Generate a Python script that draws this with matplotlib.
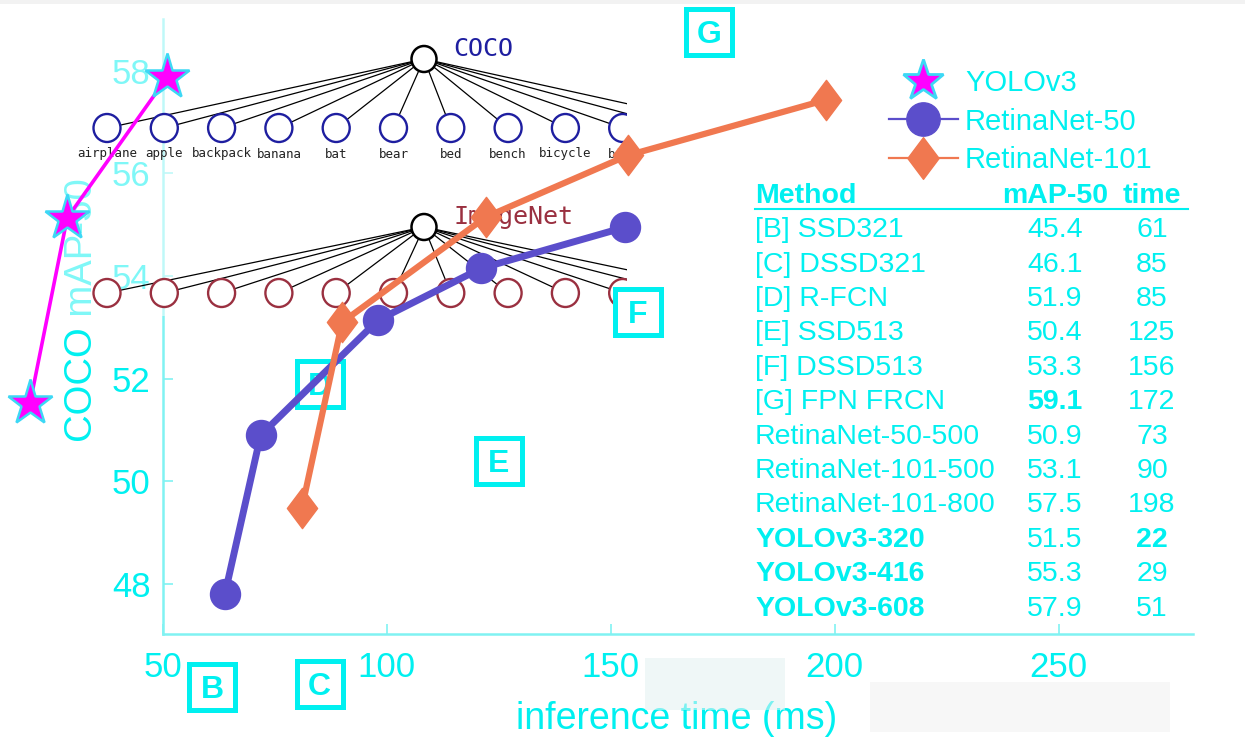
import matplotlib
matplotlib.use('Agg')
import matplotlib.pyplot as plt
from matplotlib.lines import Line2D
from matplotlib.patches import Rectangle, Ellipse
from matplotlib.path import Path
from matplotlib.transforms import offset_copy

plt.rcParams['font.family'] = ['Liberation Sans', 'DejaVu Sans']

W, H = 1245, 739

# ---------------- data ----------------
yolo_time = [20.3, 28.6, 50.9]
yolo_map = [51.52, 55.13, 57.87]
r50_time = [63.8, 71.8, 98.0, 121.0, 153.1]
r50_map = [47.8, 50.9, 53.14, 54.15, 54.95]
r101_time = [81.0, 90.0, 122.1, 153.8, 198.0]
r101_map = [49.48, 53.10, 55.15, 56.35, 57.43]

box_letters = ['B', 'C', 'D', 'E', 'F', 'G']
box_time = [61, 85, 85, 125, 156, 172]
box_map = [46.0, 46.05, 51.9, 50.4, 53.3, 58.75]

series_labels = ['YOLOv3', 'RetinaNet-50', 'RetinaNet-101']

table_header = ['Method', 'mAP-50', 'time']
table_methods = ['[B] SSD321', '[C] DSSD321', '[D] R-FCN', '[E] SSD513',
                 '[F] DSSD513', '[G] FPN FRCN', 'RetinaNet-50-500',
                 'RetinaNet-101-500', 'RetinaNet-101-800', 'YOLOv3-320',
                 'YOLOv3-416', 'YOLOv3-608']
table_map = ['45.4', '46.1', '51.9', '50.4', '53.3', '59.1', '50.9', '53.1',
             '57.5', '51.5', '55.3', '57.9']
table_time = ['61', '85', '85', '125', '156', '172', '73', '90', '198', '22',
              '29', '51']
method_bold = [False] * 9 + [True] * 3
map_bold = [False] * 5 + [True] + [False] * 6
time_bold = [False] * 9 + [True] + [False] * 2

xticks = [50, 100, 150, 200, 250]
yticks = [48, 50, 52, 54, 56, 58]
xlim = (50, 280)
ylim = (47.03, 59)

coco_children = ['airplane', 'apple', 'backpack', 'banana', 'bat', 'bear',
                 'bed', 'bench', 'bicycle', 'bird', 'boat', 'book']
n_imagenet_children = 12

# ---------------- styles ----------------
CYAN = '#00F0F0'
SPINE = '#80F2F2'
MAGENTA = '#FF00FF'
STAR_EDGE = '#3CD8F5'
PURPLE = '#5B4ECB'
ORANGE = '#F07850'
NAVY = '#1E1EA0'
DARKRED = '#9A3040'

def fx(px):
    return px / W

def fy(py):
    return 1 - py / H

fig = plt.figure(figsize=(W / 100, H / 100), dpi=100)
fig.patch.set_facecolor('white')

rect = [fx(163), fy(634), (1193 - 163) / W, (634 - 19.3) / H]

# main axes: spines, ticks
ax = fig.add_axes(rect, zorder=1)
ax.set_facecolor('none')
ax.set_xlim(*xlim)
ax.set_ylim(*ylim)
for s in ['top', 'right']:
    ax.spines[s].set_visible(False)
for s in ['left', 'bottom']:
    ax.spines[s].set_color(SPINE)
    ax.spines[s].set_linewidth(1.8)
ax.set_xticks(xticks)
ax.set_yticks(yticks)
ax.tick_params(direction='in', length=7, width=1.2, color=SPINE,
               labelcolor=CYAN, labelsize=25)
ax.tick_params(axis='x', pad=12)
ax.tick_params(axis='y', pad=9)

# axis titles
fig.text(fx(82), fy(310), 'COCO mAP-50', rotation=90, ha='center', va='center',
         fontsize=27.5, color=CYAN, zorder=0.5)
fig.text(fx(677), fy(719), 'inference time (ms)', ha='center', va='center',
         fontsize=27, color=CYAN, zorder=0.5)

# tree overlay (semi-transparent white panel)
tax = fig.add_axes([0, fy(316), 627 / W, 316 / H], zorder=2)
tax.set_xlim(0, 627)
tax.set_ylim(316, 0)
tax.patch.set_facecolor('white')
tax.patch.set_alpha(0.5)
tax.set_xticks([])
tax.set_yticks([])
for s in tax.spines.values():
    s.set_visible(False)

root_x = 424
coco_root_y, coco_child_y, coco_label_y = 59, 128, 154
img_root_y, img_child_y = 227, 293
child_x0, child_dx = 107, 57.3

for i, lab in enumerate(coco_children):
    cx = child_x0 + i * child_dx
    tax.plot([root_x, cx], [coco_root_y, coco_child_y], color='black', lw=0.9, zorder=1)
    tax.add_patch(Ellipse((cx, coco_child_y), 27, 28, fc='white', ec=NAVY, lw=1.7, zorder=2))
    tax.text(cx, coco_label_y, lab, ha='center', va='center', fontsize=9,
             family='DejaVu Sans Mono', color='#222222', zorder=3, clip_on=True)
for i in range(n_imagenet_children):
    cx = child_x0 + i * child_dx
    tax.plot([root_x, cx], [img_root_y, img_child_y], color='black', lw=0.9, zorder=1)
    tax.add_patch(Ellipse((cx, img_child_y), 27, 28, fc='white', ec=DARKRED, lw=1.7, zorder=2))
for ry in [coco_root_y, img_root_y]:
    tax.add_patch(Ellipse((root_x, ry), 25, 26, fc='white', ec='black', lw=1.8, zorder=4))
tax.text(453, 49, 'COCO', ha='left', va='center', fontsize=18,
         family='DejaVu Sans Mono', color=NAVY, zorder=4)
tax.text(453, 217, 'ImageNet', ha='left', va='center', fontsize=18,
         family='DejaVu Sans Mono', color=DARKRED, zorder=4)

# data axes
dax = fig.add_axes(rect, zorder=3)
dax.set_facecolor('none')
dax.set_xlim(*xlim)
dax.set_ylim(*ylim)
dax.axis('off')

# letter boxes
dax.plot(box_time, box_map, ls='none', marker='s', ms=33, mfc='white', mec=CYAN,
         mew=3.6, clip_on=False, zorder=1)
letter_tr = offset_copy(dax.transData, fig=fig, y=-8.0, units='points')
for l, t, m in zip(box_letters, box_time, box_map):
    dax.text(t, m, l, ha='center', va='baseline', fontsize=23, fontweight='bold',
             color=CYAN, transform=letter_tr, clip_on=False, zorder=1.1)

diamond = Path([(0, 1), (0.75, 0), (0, -1), (-0.75, 0), (0, 1)],
               [Path.MOVETO, Path.LINETO, Path.LINETO, Path.LINETO, Path.CLOSEPOLY])

dax.plot(yolo_time, yolo_map, color=MAGENTA, lw=2.6, clip_on=False, zorder=3)
dax.plot(yolo_time, yolo_map, ls='none', marker='*', ms=34, mfc=MAGENTA,
         mec=STAR_EDGE, mew=1.8, clip_on=False, zorder=5)
dax.plot(r50_time, r50_map, color=PURPLE, lw=5, marker='o', ms=21.6, mfc=PURPLE,
         mec=PURPLE, clip_on=False, zorder=4)
dax.plot(r101_time, r101_map, color=ORANGE, lw=4.5, marker=diamond, ms=29,
         mfc=ORANGE, mec=ORANGE, clip_on=False, zorder=4)

handles = [
    Line2D([], [], ls='none', marker='*', ms=31, mfc=MAGENTA, mec=STAR_EDGE, mew=2),
    Line2D([], [], color=PURPLE, lw=1.6, marker='o', ms=24, mfc=PURPLE, mec=PURPLE),
    Line2D([], [], color=ORANGE, lw=1.6, marker=diamond, ms=30, mfc=ORANGE, mec=ORANGE),
]
dax.legend(handles, series_labels, loc='upper left',
           bbox_to_anchor=(fx(889), fy(69)), bbox_transform=fig.transFigure,
           frameon=False, fontsize=21, handlelength=2.35, handletextpad=0.25,
           labelspacing=0.36, borderpad=0, borderaxespad=0, labelcolor=CYAN)

# table
col_method_x, col_map_x, col_time_x = 755, 1055, 1152
header_y = 193
row_y0, row_dy = 227, 34.4
tfs = 20.5
cap_off = 10.2
fig.text(fx(col_method_x), fy(header_y + cap_off), table_header[0], ha='left',
         va='baseline', fontsize=tfs, fontweight='bold', color=CYAN, zorder=5)
fig.text(fx(col_map_x), fy(header_y + cap_off), table_header[1], ha='center',
         va='baseline', fontsize=tfs, fontweight='bold', color=CYAN, zorder=5)
fig.text(fx(col_time_x), fy(header_y + cap_off), table_header[2], ha='center',
         va='baseline', fontsize=tfs, fontweight='bold', color=CYAN, zorder=5)
fig.add_artist(Line2D([fx(755), fx(1188)], [fy(209), fy(209)], color=CYAN,
                      lw=1.5, transform=fig.transFigure, zorder=5))
for i in range(len(table_methods)):
    yb = fy(row_y0 + i * row_dy + cap_off)
    fig.text(fx(col_method_x), yb, table_methods[i], ha='left', va='baseline',
             fontsize=tfs, fontweight='bold' if method_bold[i] else 'normal',
             color=CYAN, zorder=5)
    fig.text(fx(col_map_x), yb, table_map[i], ha='center', va='baseline',
             fontsize=tfs, fontweight='bold' if map_bold[i] else 'normal',
             color=CYAN, zorder=5)
    fig.text(fx(col_time_x), yb, table_time[i], ha='center', va='baseline',
             fontsize=tfs, fontweight='bold' if time_bold[i] else 'normal',
             color=CYAN, zorder=5)

# faint smudges (watermark remnants)
fig.add_artist(Rectangle((fx(645), fy(710)), 140 / W, 52 / H, transform=fig.transFigure,
                         fc='#e2f2f2', ec='none', alpha=0.55, zorder=6))
fig.add_artist(Rectangle((fx(870), fy(732)), 300 / W, 50 / H, transform=fig.transFigure,
                         fc='#f2f2f2', ec='none', alpha=0.6, zorder=6))
fig.add_artist(Rectangle((0, fy(4)), 1, 4 / H, transform=fig.transFigure,
                         fc='#f2f2f2', ec='none', zorder=6))

fig.savefig('out.png', dpi=100, facecolor='white')
